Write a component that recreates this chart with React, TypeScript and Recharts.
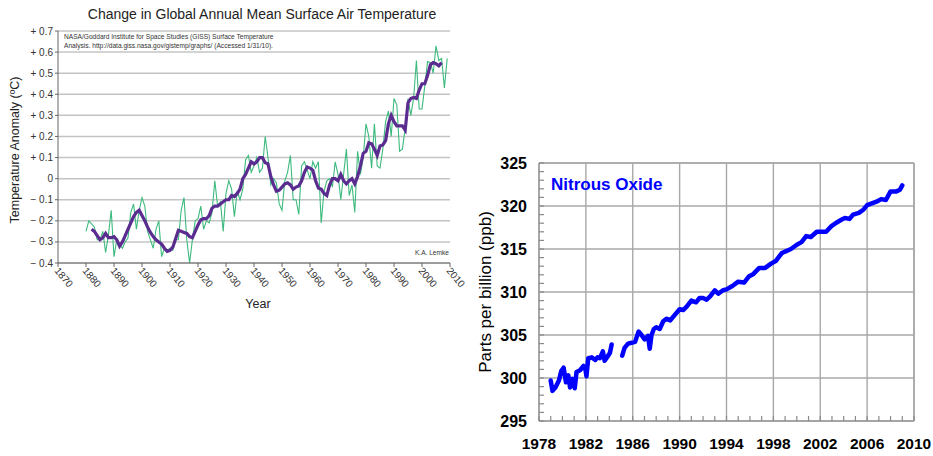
import { LineChart, Line, XAxis, YAxis, CartesianGrid, ReferenceLine } from 'recharts'

// ---- left panel: GISS annual mean surface air temperature anomaly (°C) ----
const FIRST_YEAR = 1880
const annualAnomaly = [
  -0.25, -0.2, -0.215, -0.23, -0.29, -0.29, -0.25, -0.35, -0.27, -0.15,
  -0.37, -0.29, -0.31, -0.33, -0.3, -0.28, -0.16, -0.12, -0.24, -0.15,
  -0.09, -0.13, -0.25, -0.29, -0.33, -0.24, -0.2, -0.37, -0.33, -0.34,
  -0.33, -0.34, -0.29, -0.29, -0.15, -0.09, -0.29, -0.4, -0.29, -0.2,
  -0.19, -0.13, -0.24, -0.2, -0.21, -0.16, -0.01, -0.13, -0.11, -0.25,
  -0.07, -0.01, -0.05, -0.18, -0.06, -0.1, -0.05, 0.09, 0.11, 0.03,
  0.06, 0.1, 0.03, 0.05, 0.2, 0.1, -0.03, 0.0, -0.02, -0.12,
  -0.15, -0.01, 0.03, 0.11, -0.1, -0.1, -0.17, 0.06, 0.08, 0.04,
  0.0, 0.08, 0.05, 0.08, -0.21, -0.06, -0.01, 0.0, -0.04, 0.08,
  0.02, -0.1, 0.02, 0.14, -0.08, -0.03, -0.16, 0.13, 0.02, 0.1,
  0.26, 0.2, 0.05, 0.26, 0.06, 0.05, 0.14, 0.27, 0.32, 0.2,
  0.38, 0.35, 0.13, 0.14, 0.24, 0.38, 0.3, 0.38, 0.56, 0.33,
  0.33, 0.44, 0.555, 0.55, 0.5, 0.63, 0.56, 0.57, 0.43, 0.57,
]

// five-year running mean, 1882 - 2007
const FIRST_MEAN_YEAR = 1882
const fiveYearMean = [
  -0.24, -0.25, -0.27, -0.29, -0.28, -0.26, -0.28, -0.28,
  -0.275, -0.29, -0.32, -0.3, -0.27, -0.24, -0.21, -0.18, -0.16, -0.15,
  -0.175, -0.2, -0.23, -0.255, -0.275, -0.29, -0.3, -0.31, -0.33, -0.345,
  -0.34, -0.325, -0.285, -0.245, -0.25, -0.255, -0.26, -0.275, -0.28, -0.25,
  -0.22, -0.195, -0.19, -0.19, -0.175, -0.14, -0.13, -0.13, -0.12, -0.11,
  -0.1, -0.1, -0.08, -0.085, -0.07, -0.05, 0.0, 0.02, 0.05, 0.08,
  0.07, 0.08, 0.1, 0.1, 0.075, 0.07, 0.01, -0.03, -0.06, -0.055,
  -0.04, -0.025, -0.02, -0.03, -0.05, -0.04, -0.035, -0.01, 0.03, 0.055,
  0.05, 0.04, -0.01, -0.045, -0.05, -0.07, -0.08, -0.03, 0.0, 0.0,
  -0.01, 0.02, -0.01, -0.025, -0.01, 0.0, -0.025, 0.01, 0.06, 0.12,
  0.13, 0.17, 0.165, 0.14, 0.11, 0.155, 0.16, 0.18, 0.26, 0.3,
  0.27, 0.25, 0.25, 0.25, 0.23, 0.36, 0.38, 0.385, 0.38, 0.42,
  0.45, 0.45, 0.49, 0.54, 0.55, 0.545, 0.535, 0.55,
]

const tempYearTicks = [1870, 1880, 1890, 1900, 1910, 1920, 1930, 1940, 1950, 1960, 1970, 1980, 1990, 2000, 2010]
const tempValueTicks = [-0.4, -0.3, -0.2, -0.1, 0, 0.1, 0.2, 0.3, 0.4, 0.5, 0.6, 0.7]

// ---- right panel: nitrous oxide (ppb) ----
const n2oTime = [
  1979.0, 1979.15, 1979.4, 1979.7, 1979.9, 1980.1, 1980.3, 1980.5, 1980.65, 1980.85,
  1981.05, 1981.2, 1981.5, 1981.8, 1981.95, 1982.05, 1982.2, 1982.5, 1982.8, 1983.0,
  1983.2, 1983.45, 1983.6, 1983.9, 1984.05, 1984.2, 1984.6,
  1985.1, 1985.3, 1985.6, 1985.9, 1986.2, 1986.5, 1986.75, 1987.0, 1987.3, 1987.45,
  1987.6, 1987.8, 1988.0, 1988.3, 1988.6, 1988.9, 1989.2, 1989.5, 1990.0, 1990.3,
  1990.6, 1991.0, 1991.4, 1991.7, 1992.0, 1992.3, 1992.6, 1993.0, 1993.3, 1993.7,
  1994.0, 1994.5, 1995.0, 1995.5, 1995.9, 1996.3, 1996.8, 1997.3, 1997.8, 1998.2,
  1998.7, 1999.0, 1999.5, 2000.0, 2000.4, 2000.8, 2001.2, 2001.7, 2002.1, 2002.5,
  2002.9, 2003.3, 2003.8, 2004.1, 2004.5, 2004.8, 2005.3, 2005.7, 2006.0, 2006.4,
  2006.8, 2007.2, 2007.6, 2008.0, 2008.5, 2008.8, 2009.0,
]
const n2oPpb = [
  299.7, 298.5, 298.9, 299.7, 300.8, 301.2, 299.5, 300.3, 298.9, 299.9,
  298.8, 300.7, 300.9, 301.4, 301.1, 300.2, 302.3, 302.4, 302.1, 302.4,
  302.3, 303.1, 302.0, 302.6, 302.9, 303.9, null,
  302.6, 303.5, 304.0, 304.1, 304.2, 305.4, 305.0, 304.5, 304.9, 303.4,
  305.0, 305.7, 305.9, 305.7, 306.6, 306.9, 306.7, 307.2, 308.0, 307.9,
  308.3, 309.0, 308.8, 309.3, 309.3, 309.1, 309.5, 310.2, 309.8, 310.2,
  310.3, 310.7, 311.2, 311.1, 311.8, 312.1, 312.8, 312.8, 313.3, 313.6,
  314.5, 314.7, 315.0, 315.5, 315.8, 316.5, 316.4, 317.0, 317.0, 317.0,
  317.6, 318.0, 318.4, 318.6, 318.5, 319.0, 319.2, 319.6, 320.1, 320.3,
  320.5, 320.8, 320.7, 321.7, 321.7, 321.9, 322.4,
]

const n2oYearTicks = [1978, 1982, 1986, 1990, 1994, 1998, 2002, 2006, 2010]
const n2oPpbTicks = [295, 300, 305, 310, 315, 320, 325]

const tempData = annualAnomaly.map((annual, i) => {
  const year = FIRST_YEAR + i
  const m = year - FIRST_MEAN_YEAR
  return { year, annual, mean: m >= 0 && m < fiveYearMean.length ? fiveYearMean[m] : null }
})

const n2oData = n2oTime.map((t, i) => ({ t, ppb: n2oPpb[i] }))

// minor tick positions (every year / every ppb)
const n2oMinorYears = Array.from({ length: 33 }, (_, i) => 1978 + i)
const n2oMinorPpb = Array.from({ length: 31 }, (_, i) => 295 + i)

const leftFont = '"Liberation Sans", Arial, sans-serif'
const n2oGrid = '#a8a8a8'

const fmtAnomaly = (v: number) => {
  if (Math.abs(v) < 1e-9) return '0'
  return (v > 0 ? '+ ' : '\u2212 ') + Math.abs(v).toFixed(1)
}

function YearTick({ x, y, payload }: any) {
  return (
    <text
      x={0}
      y={0}
      transform={`translate(${x - 4},${y + 4}) rotate(50)`}
      textAnchor="start"
      fontSize={10}
      fontFamily={leftFont}
      fill="#333"
    >
      {payload.value}
    </text>
  )
}

function N2OXTick({ x, y, payload }: any) {
  const major = (payload.value - 1978) % 4 === 0
  return (
    <g>
      <line x1={x} x2={x} y1={y} y2={y - 5} stroke="#8a8a8a" strokeWidth={1.2} />
      {major && (
        <text x={x} y={y + 28} textAnchor="middle" fontSize={15.5} fontWeight="bold" fontFamily={leftFont} fill="#000">
          {payload.value}
        </text>
      )}
    </g>
  )
}

function N2OYTick({ x, y, payload }: any) {
  const major = payload.value % 5 === 0
  return (
    <g>
      <line x1={x} x2={x + 5} y1={y} y2={y} stroke="#8a8a8a" strokeWidth={1.2} />
      {major && (
        <text x={x - 12} y={y + 6} textAnchor="end" fontSize={16} fontWeight="bold" fontFamily={leftFont} fill="#000">
          {payload.value}
        </text>
      )}
    </g>
  )
}

export default function App() {
  return (
    <div style={{ position: 'absolute', left: 0, top: 0, width: 933, height: 456, background: '#fff' }}>
      <div style={{ position: 'absolute', left: 0, top: 0 }}>
        <LineChart width={470} height={320} data={tempData} margin={{ top: 31, right: 20, bottom: 17, left: 8 }}>
          <CartesianGrid vertical={false} stroke="#c4c4c4" strokeWidth={1.5} />
          <XAxis
            dataKey="year"
            type="number"
            domain={[1870, 2010]}
            ticks={tempYearTicks}
            interval={0}
            height={40}
            tickSize={4}
            tickMargin={0}
            stroke="#666"
            tick={<YearTick />}
          />
          <YAxis
            type="number"
            domain={[-0.4, 0.7]}
            ticks={tempValueTicks}
            interval={0}
            width={50}
            tickSize={3}
            tickMargin={2}
            stroke="#666"
            tickFormatter={fmtAnomaly}
            tick={{ fontSize: 10, fill: '#333', fontFamily: leftFont }}
          />
          <Line dataKey="annual" stroke="#3dba7e" strokeWidth={1.1} dot={false} isAnimationActive={false} />
          <Line dataKey="mean" stroke="#5b2c90" strokeWidth={3.2} dot={false} isAnimationActive={false} />
        </LineChart>
      </div>

      <div style={{ position: 'absolute', left: 470, top: 130 }}>
        <LineChart width={463} height={326} data={n2oData} margin={{ top: 33, right: 19, bottom: 5, left: 9 }}>
          <CartesianGrid
            stroke={n2oGrid}
            strokeWidth={1.4}
            horizontalValues={n2oPpbTicks}
            verticalValues={n2oYearTicks}
          />
          {/* frame: top and right edges */}
          <ReferenceLine y={n2oPpbTicks[n2oPpbTicks.length - 1]} stroke={n2oGrid} strokeWidth={1.6} />
          <ReferenceLine x={n2oYearTicks[n2oYearTicks.length - 1]} stroke={n2oGrid} strokeWidth={1.6} />
          <XAxis
            dataKey="t"
            type="number"
            domain={[1978, 2010]}
            ticks={n2oMinorYears}
            interval={0}
            height={30}
            tickSize={0}
            tickMargin={0}
            tickLine={false}
            stroke="#8c8c8c"
            tick={<N2OXTick />}
          />
          <YAxis
            type="number"
            domain={[295, 325]}
            ticks={n2oMinorPpb}
            interval={0}
            width={60}
            tickSize={0}
            tickMargin={0}
            tickLine={false}
            stroke="#8c8c8c"
            tick={<N2OYTick />}
          />
          <Line
            dataKey="ppb"
            stroke="#0000ff"
            strokeWidth={4.5}
            strokeLinejoin="round"
            strokeLinecap="round"
            dot={false}
            connectNulls={false}
            isAnimationActive={false}
          />
        </LineChart>
      </div>

      <svg width={933} height={456} style={{ position: 'absolute', left: 0, top: 0, pointerEvents: 'none' }}>
        <g fontFamily={leftFont} fill="#222">
          <text x={262} y={19} textAnchor="middle" fontSize={14}>
            Change in Global Annual Mean Surface Air Temperature
          </text>
          <text x={64} y={39} fontSize={6.6} fill="#333">
            NASA/Goddard Institute for Space Studies (GISS) Surface Temperature
          </text>
          <text x={64} y={48} fontSize={6.6} fill="#333">
            Analysis. http://data.giss.nasa.gov/gistemp/graphs/ (Accessed 1/31/10).
          </text>
          <text x={449} y={255} textAnchor="end" fontSize={6.6} fill="#333">
            K.A. Lemke
          </text>
          <text x={258} y={308} textAnchor="middle" fontSize={12.5}>
            Year
          </text>
          <text transform="translate(19,150) rotate(-90)" textAnchor="middle" fontSize={12.5}>
            Temperature Anomaly (ºC)
          </text>
        </g>
        <g fontFamily={leftFont}>
          <text x={551} y={190} fontSize={17} fontWeight="bold" fill="#0000ff">
            Nitrous Oxide
          </text>
          <text transform="translate(491,292) rotate(-90)" textAnchor="middle" fontSize={17} fill="#000">
            Parts per billion (ppb)
          </text>
        </g>
      </svg>
    </div>
  )
}
